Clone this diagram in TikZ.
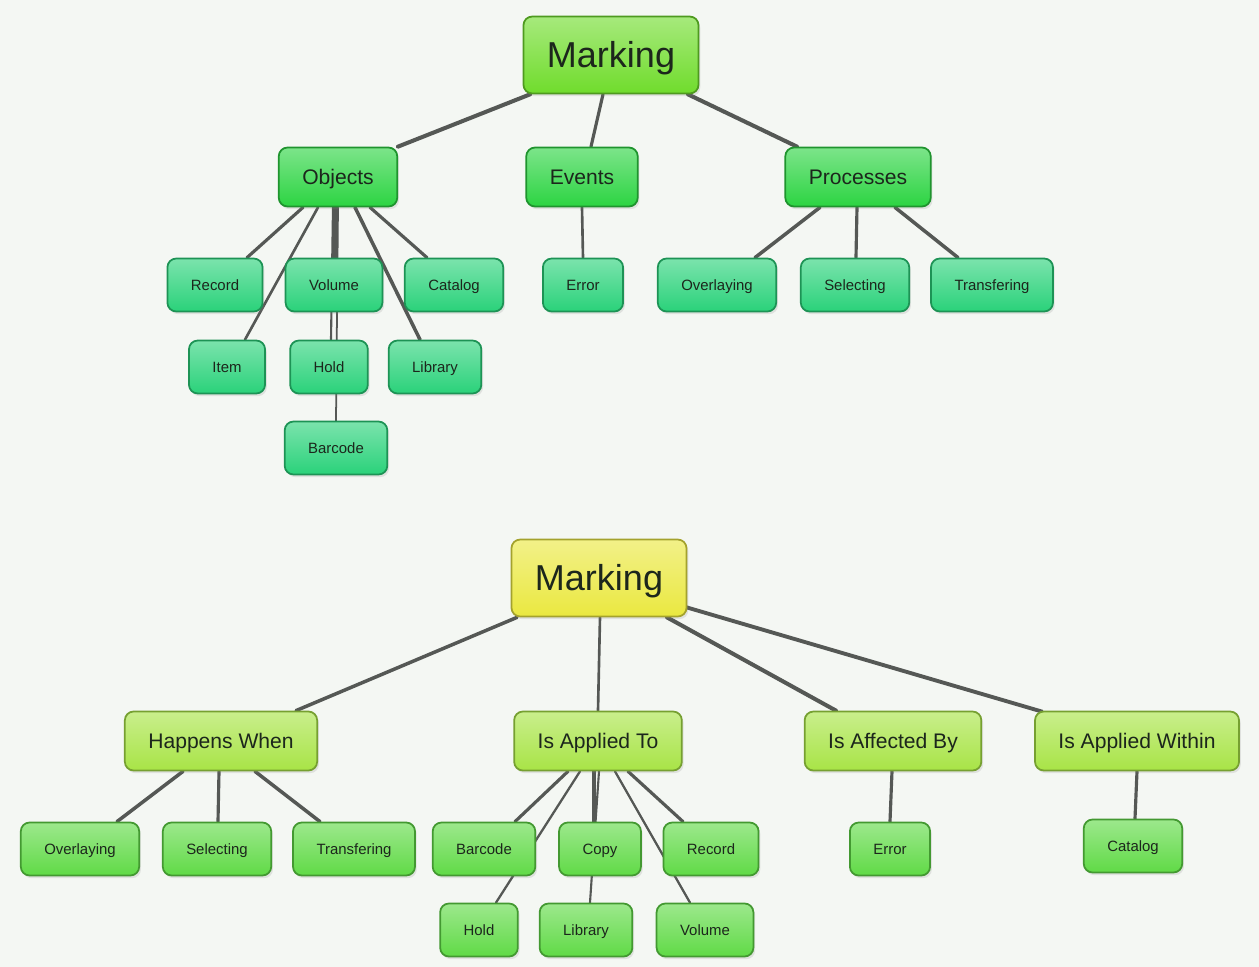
\documentclass[tikz,border=0pt]{standalone}
\usepackage{fontspec}
\setmainfont{Liberation Sans}
\usetikzlibrary{calc,backgrounds,shadows}
\definecolor{bgcol}{RGB}{244,247,243}
\definecolor{textcol}{RGB}{28,38,28}
\definecolor{linkgray}{RGB}{85,88,85}
\definecolor{rootgreen}{RGB}{112,220,44}
\definecolor{rootyellow}{RGB}{234,232,64}
\definecolor{catgreen}{RGB}{44,212,66}
\definecolor{objteal}{RGB}{42,210,122}
\definecolor{relgreen}{RGB}{168,228,70}
\definecolor{leafgreen}{RGB}{96,218,70}
\tikzset{
  box/.style={rectangle,rounded corners=5pt,inner xsep=.47cm,inner ysep=0pt,
    text depth=0pt,
    top color=#1!62!white,bottom color=#1,draw=#1!70!black,line width=1pt,
    text=textcol,drop shadow={opacity=.18,shadow xshift=1pt,shadow yshift=-1.5pt}},
  root box/.style={box=#1,minimum height=1.54cm,text height=14.7pt,
    font=\fontsize{20.5}{24}\selectfont},
  mid box/.style={box=#1,minimum height=1.18cm,text height=8.6pt,
    font=\fontsize{12}{14}\selectfont},
  leaf box/.style={box=#1,minimum height=1.06cm,text height=6.1pt,
    font=\fontsize{8.5}{10}\selectfont},
  link/.style={draw=linkgray,line width=#1,line cap=round},
  link/.default=1.8pt,
  every picture/.style={x=.02cm,y=-.02cm},
}

\begin{document}
\begin{tikzpicture}
  % first map: what marking works on
  \node[root box=rootgreen] (mk1) at (611,55) {Marking};
  \node[mid box=catgreen] (obj) at (338,177) {Objects};
  \node[mid box=catgreen] (evt) at (582,177) {Events};
  \node[mid box=catgreen] (proc) at (858,177) {Processes};

  \node[leaf box=objteal] (rec1) at (215,285) {Record};
  \node[leaf box=objteal] (vol1) at (334,285) {Volume};
  \node[leaf box=objteal] (cat1) at (454,285) {Catalog};
  \node[leaf box=objteal] (err1) at (583,285) {Error};
  \node[leaf box=objteal] (ovl1) at (717,285) {Overlaying};
  \node[leaf box=objteal] (sel1) at (855,285) {Selecting};
  \node[leaf box=objteal] (tra1) at (992,285) {Transfering};
  \node[leaf box=objteal] (item1) at (227,367) {Item};
  \node[leaf box=objteal] (hold1) at (329,367) {Hold};
  \node[leaf box=objteal] (lib1) at (435,367) {Library};
  \node[leaf box=objteal] (bar1) at (336,448) {Barcode};

  % second map: how marking relates
  \node[root box=rootyellow] (mk2) at (599,578) {Marking};
  \node[mid box=relgreen] (hap) at (221,741) {Happens When};
  \node[mid box=relgreen] (app) at (598,741) {Is Applied To};
  \node[mid box=relgreen] (aff) at (893,741) {Is Affected By};
  \node[mid box=relgreen] (win) at (1137,741) {Is Applied Within};

  \node[leaf box=leafgreen] (ovl2) at (80,849) {Overlaying};
  \node[leaf box=leafgreen] (sel2) at (217,849) {Selecting};
  \node[leaf box=leafgreen] (tra2) at (354,849) {Transfering};
  \node[leaf box=leafgreen] (bar2) at (484,849) {Barcode};
  \node[leaf box=leafgreen] (copy2) at (600,849) {Copy};
  \node[leaf box=leafgreen] (rec2) at (711,849) {Record};
  \node[leaf box=leafgreen] (err2) at (890,849) {Error};
  \node[leaf box=leafgreen] (cat2) at (1133,846) {Catalog};
  \node[leaf box=leafgreen] (hold2) at (479,930) {Hold};
  \node[leaf box=leafgreen] (lib2) at (586,930) {Library};
  \node[leaf box=leafgreen] (vol2) at (705,930) {Volume};

  \begin{pgfonlayer}{background}
    \fill[bgcol] (0,0) rectangle (1259,967);

    % links of the first map
    \draw[link=2.3pt] ($(mk1.south)+(-81,0)$) -- ($(obj.north)+(60,0)$);
    \draw[link] ($(mk1.south)+(-8,0)$) -- ($(evt.north)+(9,0)$);
    \draw[link=2.3pt] ($(mk1.south)+(77,0)$) -- ($(proc.north)+(-61,0)$);
    \draw[link] ($(obj.south)+(-35,0)$) -- ($(rec1.north)+(32,0)$);
    \draw[link=1.5pt] ($(obj.south)+(-20,0)$) -- ($(item1.north)+(18,0)$);
    \draw[link] ($(obj.south)+(-3,0)$) -- ($(vol1.north)+(1,0)$);
    \draw[link=1.2pt] ($(obj.south)+(-5,0)$) -- ($(hold1.north)+(2,0)$);
    \draw[link=1pt] ($(obj.south)+(0,0)$) -- ($(bar1.north)+(0,0)$);
    \draw[link=2pt] ($(obj.south)+(17,0)$) -- ($(lib1.north)+(-15,0)$);
    \draw[link] ($(obj.south)+(32,0)$) -- ($(cat1.north)+(-27,0)$);
    \draw[link=1.5pt] (evt.south) -- (err1.north);
    \draw[link=2pt] ($(proc.south)+(-38,0)$) -- ($(ovl1.north)+(38,0)$);
    \draw[link] ($(proc.south)+(-1,0)$) -- ($(sel1.north)+(1,0)$);
    \draw[link=2pt] ($(proc.south)+(37,0)$) -- ($(tra1.north)+(-34,0)$);

    % links of the second map
    \draw[link=2pt] ($(mk2.south)+(-82,0)$) -- ($(hap.north)+(75,0)$);
    \draw[link=1.5pt] ($(mk2.south)+(1,0)$) -- (app.north);
    \draw[link=2.3pt] ($(mk2.south)+(68,0)$) -- ($(aff.north)+(-57,0)$);
    \draw[link=2.2pt] ($(mk2.east)+(-2,29)$) -- ($(win.north west)+(8,1)$);
    \draw[link=2pt] ($(hap.south)+(-38,0)$) -- ($(ovl2.north)+(37,0)$);
    \draw[link] ($(hap.south)+(-2,0)$) -- ($(sel2.north)+(1,0)$);
    \draw[link=2pt] ($(hap.south)+(34,0)$) -- ($(tra2.north)+(-34,0)$);
    \draw[link] ($(app.south)+(-30,0)$) -- ($(bar2.north)+(31,0)$);
    \draw[link=1.3pt] ($(app.south)+(-18,0)$) -- ($(hold2.north)+(17,0)$);
    \draw[link=2pt] ($(app.south)+(-4,0)$) -- ($(copy2.north)+(-6,0)$);
    \draw[link=1.2pt] ($(app.south)+(1,0)$) -- ($(lib2.north)+(4,0)$);
    \draw[link] ($(app.south)+(30,0)$) -- ($(rec2.north)+(-28,0)$);
    \draw[link=1.3pt] ($(app.south)+(17,0)$) -- ($(vol2.north)+(-15,0)$);
    \draw[link] ($(aff.south)+(-1,0)$) -- (err2.north);
    \draw[link] (win.south) -- ($(cat2.north)+(2,0)$);
  \end{pgfonlayer}
\end{tikzpicture}
\end{document}
